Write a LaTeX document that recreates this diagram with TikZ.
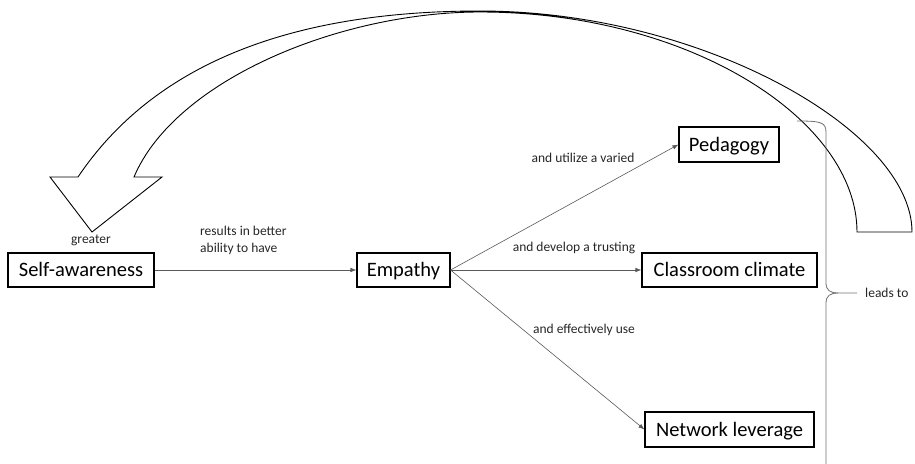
\documentclass[tikz,border=0pt]{standalone}
\usepackage{fontspec}
\setmainfont{Carlito}
\usetikzlibrary{arrows.meta}
\definecolor{lbl}{HTML}{262626}
\definecolor{conn}{HTML}{595959}
\definecolor{brc}{HTML}{707070}
\begin{document}
\begin{tikzpicture}[x=1pt,y=-1pt,
  box/.style={draw=black,line width=1.1pt,inner sep=0pt,minimum height=34pt,text height=18pt,text depth=4.6pt,font=\fontsize{20.5}{24}\selectfont},
  lab/.style={text=lbl,inner sep=0pt,font=\fontsize{13.5}{17}\selectfont},
  conn/.style={draw=conn,line width=0.6pt,-{Latex[length=6pt,width=4.5pt]}},
  bigarrow/.style={draw=black,line width=0.9pt,line join=miter}]
\useasboundingbox (0,0) rectangle (915,463);

% big curved block arrow
\draw[bigarrow] (78,177) .. controls (150,70) and (280,11) .. (480,11)
   .. controls (700,11) and (912,130) .. (912,232)
   -- (857,232)
   .. controls (857,120) and (690,12) .. (480,12)
   .. controls (340,12) and (175,80) .. (134,177)
   -- (162,177) -- (92,232) -- (50,177) -- cycle;

% nodes
\node[box,minimum width=146pt] (self) at (81,270) {Self-awareness};
\node[box,minimum width=93pt] (emp) at (403.5,270) {Empathy};
\node[box,minimum width=100pt,minimum height=35pt] (ped) at (729,144.5) {Pedagogy};
\node[box,minimum width=175pt] (cls) at (729.5,270) {Classroom climate};
\node[box,minimum width=169pt,minimum height=35pt] (net) at (729.5,429.5) {Network leverage};

% connectors
\draw[conn] (self.east) -- (emp.west);
\draw[conn] (emp.east) -- (ped.west);
\draw[conn] (emp.east) -- (cls.west);
\draw[conn] (emp.east) -- (net.west);

% labels
\node[lab] (lgreater) at (91,240) {greater};
\node[lab,anchor=west,align=left] (lres) at (200,240.5) {results in better\\ability to have};
\node[lab] (lutil) at (583,158) {and utilize a varied};
\node[lab] (ldev) at (574,248) {and develop a trusting};
\node[lab] (leff) at (584,330) {and effectively use};

% brace
\coordinate (btop) at (797,121);
\coordinate (btip) at (857,293);
\coordinate (bbot) at (826,470);
\draw[draw=brc,line width=0.8pt] (btop) .. controls (820,121) and (826,122) .. (826,132)
  -- (826,283) .. controls (826,290) and (830,293) .. (838,293) -- (btip);
\draw[draw=brc,line width=0.8pt] (838,293) .. controls (830,293) and (826,296) .. (826,303) -- (bbot);
\node[lab,anchor=west] (llead) at (865,293) {leads to};
\end{tikzpicture}
\end{document}
